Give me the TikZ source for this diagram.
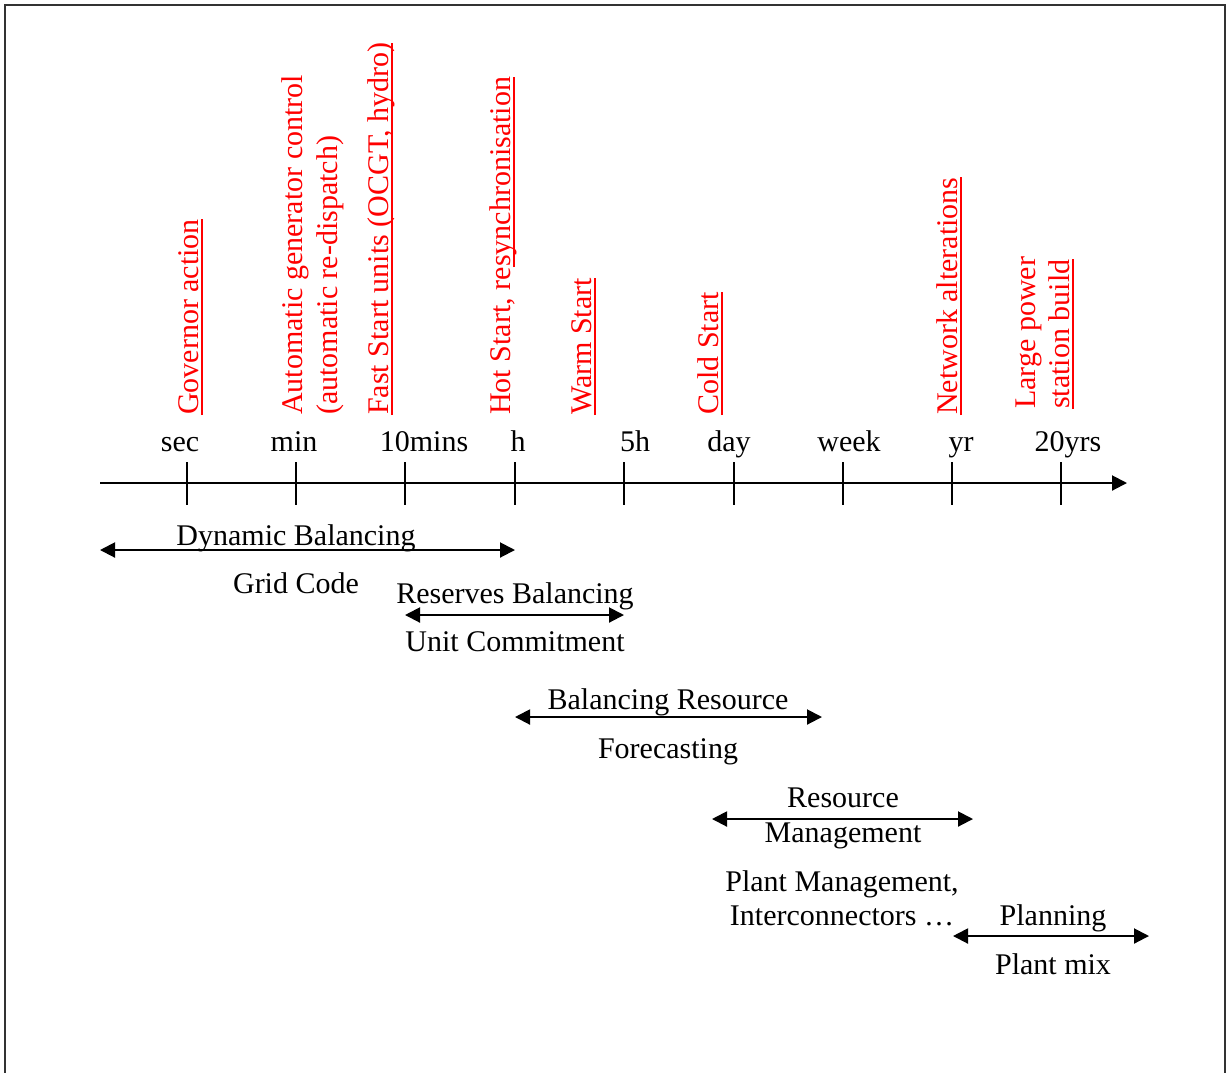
\documentclass[tikz,border=0pt]{standalone}
\usepackage{fontspec}
\setmainfont{Liberation Serif}
\usetikzlibrary{arrows.meta}
\usetikzlibrary{positioning}

\tikzset{
  lbl/.style={font=\fontsize{30}{34.5}\selectfont, inner sep=0pt, anchor=base},
  evt/.style={lbl, text=red, rotate=90, anchor=base west},
  uline/.style={red, line width=2pt},
  tick/.style={line width=2pt},
  span/.style={{Triangle[length=15pt,width=15pt]}-{Triangle[length=15pt,width=15pt]}, line width=2pt},
  axis/.style={-{Triangle[length=15pt,width=15pt]}, line width=2pt}
}

\begin{document}
\begin{tikzpicture}[x=1pt,y=-1pt]
\useasboundingbox (0,0) rectangle (1230,1072);
\draw[line width=2pt,black!80] (5,1090)--(5,5)--(1225,5)--(1225,1090);

% time axis
\coordinate (axL) at (100,483);
\coordinate (axR) at (1127,483);
\draw[axis] (axL) -- (axR);
\draw[tick] (187,462)--(187,505);
\draw[tick] (296,462)--(296,505);
\draw[tick] (405,462)--(405,505);
\draw[tick] (515,462)--(515,505);
\draw[tick] (624,462)--(624,505);
\draw[tick] (734,462)--(734,505);
\draw[tick] (843,462)--(843,505);
\draw[tick] (952,462)--(952,505);
\draw[tick] (1061,462)--(1061,505);
\node[lbl] (sec) at (180,451) {sec};
\node[lbl] (min) at (294,451) {min};
\node[lbl] (tenmin) at (424,451) {10mins};
\node[lbl] (hr) at (518,451) {h};
\node[lbl] (fiveh) at (635,451) {5h};
\node[lbl] (day) at (729,451) {day};
\node[lbl] (week) at (849,451) {week};
\node[lbl] (yr) at (961,451) {yr};
\node[lbl] (twentyyr) at (1068,451) {20yrs};

% events (red), underlines drawn beside the turned text
\node[evt] (gov) at (198,415) {Governor action};
\draw[uline] ([xshift=4pt]gov.base west) -- ([xshift=4pt]gov.base east);
\node[evt] (agc) at (302,415) {Automatic generator control};
\node[evt] (agcb) at (337,415) {(automatic re-dispatch)};
\node[evt] (fast) at (388,415) {Fast Start units (OCGT, hydro)};
\draw[uline] ([xshift=4pt]fast.base west) -- ([xshift=4pt]fast.base east);
\node[evt] (hot) at (510,415) {Hot Start, re};
\node[evt] (hotb) at (hot.base east) {synchronisation};
\draw[uline] ([xshift=4pt]hotb.base west) -- ([xshift=4pt]hotb.base east);
\node[evt] (warm) at (591,415) {Warm Start};
\draw[uline] ([xshift=4pt]warm.base west) -- ([xshift=4pt]warm.base east);
\node[evt] (cold) at (718,415) {Cold Start};
\draw[uline] ([xshift=4pt]cold.base west) -- ([xshift=4pt]cold.base east);
\node[evt] (net) at (957,415) {Network alterations};
\draw[uline] ([xshift=4pt]net.base west) -- ([xshift=4pt]net.base east);
\node[evt] (large) at (1035,409) {Large power};
\node[evt] (largeb) at (1069,409) {station build};
\draw[uline] ([xshift=4pt]largeb.base west) -- ([xshift=4pt]largeb.base east);

% time spans
\coordinate (dynL) at (100,550);
\coordinate (dynR) at (515,550);
\draw[span] (dynL) -- (dynR);
\node[lbl] (dyn) at (296,545) {Dynamic Balancing};
\node[lbl] (grid) at (296,593) {Grid Code};

\coordinate (resL) at (405,615);
\coordinate (resR) at (624,615);
\draw[span] (resL) -- (resR);
\node[lbl] (resv) at (515,603) {Reserves Balancing};
\node[lbl] (unit) at (515,651) {Unit Commitment};

\coordinate (balL) at (515,717);
\coordinate (balR) at (822,717);
\draw[span] (balL) -- (balR);
\node[lbl] (bal) at (668,709) {Balancing Resource};
\node[lbl] (fore) at (668,758) {Forecasting};

\coordinate (rmL) at (712,819);
\coordinate (rmR) at (973,819);
\draw[span] (rmL) -- (rmR);
\node[lbl] (rm) at (843,807) {Resource};
\node[lbl] (rmb) at (843,842) {Management};
\node[lbl] (pm) at (842,891) {Plant Management,};
\node[lbl] (pmb) at (842,925) {Interconnectors \dots};

\coordinate (plL) at (953,936);
\coordinate (plR) at (1149,936);
\draw[span] (plL) -- (plR);
\node[lbl] (plan) at (1053,925) {Planning};
\node[lbl] (mix) at (1053,974) {Plant mix};
\end{tikzpicture}
\end{document}
